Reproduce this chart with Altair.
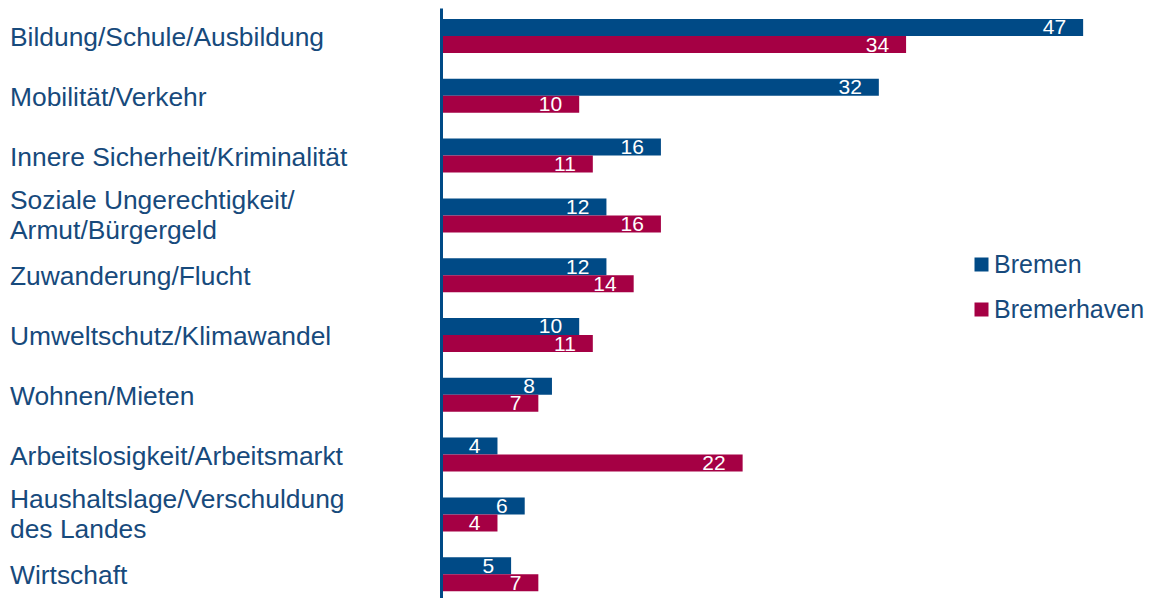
import altair as alt
import pandas as pd

categories = [
    "Bildung/Schule/Ausbildung",
    "Mobilität/Verkehr",
    "Innere Sicherheit/Kriminalität",
    "Soziale Ungerechtigkeit/\nArmut/Bürgergeld",
    "Zuwanderung/Flucht",
    "Umweltschutz/Klimawandel",
    "Wohnen/Mieten",
    "Arbeitslosigkeit/Arbeitsmarkt",
    "Haushaltslage/Verschuldung\ndes Landes",
    "Wirtschaft",
]
series = ["Bremen", "Bremerhaven"]
bremen = [47, 32, 16, 12, 12, 10, 8, 4, 6, 5]
bremerhaven = [34, 10, 11, 16, 14, 11, 7, 22, 4, 7]

rows = []
for c, a, b in zip(categories, bremen, bremerhaven):
    rows.append({"Thema": c, "Ort": series[0], "Wert": a})
    rows.append({"Thema": c, "Ort": series[1], "Wert": b})
df = pd.DataFrame(rows)
df_cat = pd.DataFrame({"Thema": categories, "multi": ["\n" in c for c in categories]})

BLUE = "#004A86"
RED = "#A50044"
TEXT = "#174A7C"
FONT = "Liberation Sans"

y_scale = alt.Scale(paddingInner=0.4314, paddingOuter=0.1488, align=0.618)
y_enc = alt.Y(
    "Thema:N",
    sort=categories,
    scale=y_scale,
    axis=alt.Axis(
        title=None,
        ticks=False,
        labels=False,
        offset=2,
        domainColor=BLUE,
        domainWidth=3,
        grid=False,
    ),
)
x_enc = alt.X("Wert:Q", scale=alt.Scale(domain=[0, 50], nice=False, zero=True), axis=None)
yoff = alt.YOffset("Ort:N", sort=series)

bars = alt.Chart(df).mark_bar(size=17).encode(
    x=x_enc,
    y=y_enc,
    yOffset=yoff,
    color=alt.Color(
        "Ort:N",
        sort=series,
        scale=alt.Scale(domain=series, range=[BLUE, RED]),
        legend=alt.Legend(
            title=None,
            orient="none",
            legendX=526,
            legendY=244,
            symbolType="square",
            symbolSize=196,
            symbolStrokeWidth=0,
            symbolOpacity=1,
            labelFont=FONT,
            labelFontSize=25,
            labelColor=TEXT,
            labelOffset=0,
            rowPadding=19,
            padding=0,
        ),
    ),
)

labels = alt.Chart(df).mark_text(
    align="right", baseline="middle", dx=-17, dy=1, color="white", font=FONT, fontSize=21
).encode(
    x=x_enc,
    y=alt.Y("Thema:N", sort=categories),
    yOffset=yoff,
    text=alt.Text("Wert:Q"),
)

cat_single = alt.Chart(df_cat).transform_filter("!datum.multi").mark_text(
    align="left", baseline="middle", dy=2, font=FONT, fontSize=26.4, color=TEXT
).encode(
    x=alt.value(-433),
    y=alt.Y("Thema:N", sort=categories),
    text="Thema:N",
)

cat_multi = alt.Chart(df_cat).transform_filter("datum.multi").mark_text(
    align="left", baseline="middle", dy=-14, font=FONT, fontSize=26.4, color=TEXT,
    lineBreak="\n", lineHeight=30,
).encode(
    x=alt.value(-433),
    y=alt.Y("Thema:N", sort=categories),
    text="Thema:N",
)

chart = (
    alt.layer(bars, labels, cat_single, cat_multi)
    .properties(
        width=681,
        height=590,
        padding={"left": 435, "top": 0, "right": 25, "bottom": 0},
        autosize=alt.AutoSizeParams(type="none"),
    )
    .configure_view(stroke=None)
)

chart.save("out.html", embed_options={"renderer": "svg", "actions": False})
